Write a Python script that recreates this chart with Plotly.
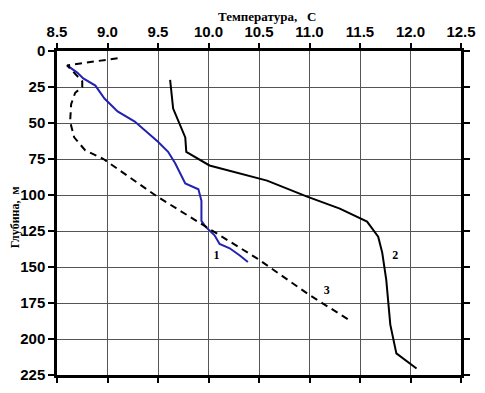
import plotly.graph_objects as go

# Curve 1 (blue)
t1 = [8.60, 8.70, 8.76, 8.88, 8.97, 9.10, 9.27, 9.40, 9.50, 9.60, 9.67, 9.77, 9.90, 9.93, 9.93, 9.97, 10.06, 10.11, 10.21, 10.31, 10.39]
d1 = [10, 15, 19, 24, 33, 42, 49, 57, 63, 70, 78, 92, 96, 104, 118, 122, 128, 134, 137, 142, 146.5]

# Curve 2 (solid black)
t2 = [9.62, 9.65, 9.77, 9.78, 10.01, 10.58, 10.97, 11.30, 11.57, 11.68, 11.72, 11.76, 11.80, 11.86, 12.06]
d2 = [20, 40, 60, 70, 79.5, 90, 101, 109.5, 118.5, 129, 140, 159, 190, 210, 220.5]

# Curve 3 (dashed black)
t3 = [9.10, 8.60, 8.75, 8.75, 8.68, 8.64, 8.63, 8.67, 8.78, 8.96, 9.49, 9.98, 10.48, 11.00, 11.42]
d3 = [5, 10, 21, 25, 29, 37, 49, 60, 69, 75, 101, 122, 144, 169.5, 188]

# Curve labels
lab_text = ["1", "2", "3"]
lab_t = [10.08, 11.85, 11.17]
lab_d = [142.5, 142.5, 167]

x_ticks = [8.5, 9.0, 9.5, 10.0, 10.5, 11.0, 11.5, 12.0, 12.5]
y_ticks = [0, 25, 50, 75, 100, 125, 150, 175, 200, 225]

fig = go.Figure()
fig.add_trace(go.Scatter(x=t1, y=d1, mode="lines",
                         line=dict(color="#2222b0", width=2)))
fig.add_trace(go.Scatter(x=t2, y=d2, mode="lines",
                         line=dict(color="black", width=2)))
fig.add_trace(go.Scatter(x=t3, y=d3, mode="lines",
                         line=dict(color="black", width=2, dash="7px,5px")))
fig.add_trace(go.Scatter(x=lab_t, y=lab_d, mode="text", text=lab_text,
                         textfont=dict(family="Liberation Serif, Times New Roman", size=12,
                                       color="black", weight="bold")))

tickfont = dict(family="Liberation Sans, Arial", size=15, color="black", weight="bold")

fig.update_layout(
    width=469, height=377,
    margin=dict(l=49, r=16, t=43, b=10, autoexpand=False),
    paper_bgcolor="white", plot_bgcolor="white",
    showlegend=False,
    xaxis=dict(range=[8.5, 12.5], tickvals=x_ticks, tickformat=".1f",
               side="top", showgrid=True, gridcolor="#555", gridwidth=1,
               showline=True, linecolor="black", linewidth=2.5, mirror="ticks",
               ticks="outside", ticklen=5, tickwidth=1.5, tickcolor="black",
               tickfont=tickfont, zeroline=False, automargin=False),
    yaxis=dict(range=[225, 0], tickvals=y_ticks,
               showgrid=True, gridcolor="#555", gridwidth=1,
               showline=True, linecolor="black", linewidth=2.5, mirror="ticks",
               ticks="outside", ticklen=6, tickwidth=1.5, tickcolor="black",
               tickfont=tickfont, zeroline=False, automargin=False),
    annotations=[
        dict(text="Температура,   С", xref="paper", yref="paper",
             x=0.52, y=1, yshift=35, showarrow=False,
             xanchor="center", yanchor="middle",
             font=dict(family="Liberation Serif, Times New Roman", size=13,
                       color="black", weight="bold")),
        dict(text="Глубина,  м", xref="paper", yref="paper",
             x=0, xshift=-42, y=0.487, showarrow=False,
             textangle=-90, xanchor="center", yanchor="middle",
             font=dict(family="Liberation Serif, Times New Roman", size=12,
                       color="black", weight="bold")),
    ],
)

fig.write_html("out.html")
